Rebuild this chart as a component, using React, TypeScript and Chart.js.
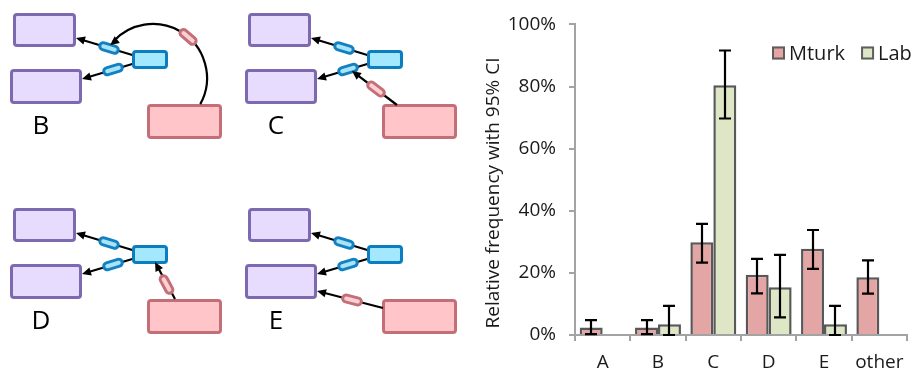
import React, { useEffect, useRef } from "react";
import { Chart, registerables } from "chart.js";
Chart.register(...registerables);

// ---------- chart data ----------
const categories = ["A", "B", "C", "D", "E", "other"];
const seriesNames = ["Mturk", "Lab"];
const mturkValues = [2.4, 2.4, 29.9, 19.4, 27.8, 18.6];
const labValues = [0, 3.5, 80.4, 15.4, 3.5, 0];
const mturkLow = [0.3, 0.3, 23.3, 13.4, 21.3, 13.3];
const mturkHigh = [4.8, 4.8, 35.8, 24.5, 33.8, 24.0];
const labLow: (number | null)[] = [null, 0, 69.7, 5.7, 0, null];
const labHigh: (number | null)[] = [null, 9.4, 91.6, 25.8, 9.4, null];
const yTickMin = 0;
const yTickMax = 100;
const yTickStep = 20;
const yTitle = "Relative frequency with 95% CI";
const panelLabels = ["B", "C", "D", "E"];

const FONT = "'Open Sans', 'Noto Sans', sans-serif";
const TEXT = "#1a1a1a";
const AXIS = "#a3a3a3";
const colors = ["#e4a6a5", "#dde7c6"];

// ---------- diagram drawing helpers ----------
type Pt = [number, number];

function box(ctx: CanvasRenderingContext2D, x: number, y: number, w: number, h: number, fill: string, stroke: string) {
  ctx.beginPath();
  ctx.roundRect(x + 1.5, y + 1.5, w - 3, h - 3, 2.5);
  ctx.fillStyle = fill;
  ctx.fill();
  ctx.lineWidth = 3;
  ctx.strokeStyle = stroke;
  ctx.stroke();
}

function pill(ctx: CanvasRenderingContext2D, cx: number, cy: number, angle: number, fill: string, stroke: string) {
  ctx.save();
  ctx.translate(cx, cy);
  ctx.rotate(angle);
  ctx.beginPath();
  ctx.roundRect(-9.5, -3.5, 19, 7, 3.5);
  ctx.fillStyle = fill;
  ctx.fill();
  ctx.lineWidth = 3;
  ctx.strokeStyle = stroke;
  ctx.stroke();
  ctx.restore();
}

function head(ctx: CanvasRenderingContext2D, from: Pt, tip: Pt) {
  const dx = tip[0] - from[0];
  const dy = tip[1] - from[1];
  const len = Math.hypot(dx, dy) || 1;
  const ux = dx / len, uy = dy / len;
  const L = 9, W = 4.2;
  const bx = tip[0] - ux * L, by = tip[1] - uy * L;
  ctx.beginPath();
  ctx.moveTo(tip[0], tip[1]);
  ctx.lineTo(bx - uy * W, by + ux * W);
  ctx.lineTo(bx + uy * W, by - ux * W);
  ctx.closePath();
  ctx.fillStyle = "#000";
  ctx.fill();
}

function arrow(ctx: CanvasRenderingContext2D, a: Pt, b: Pt) {
  const dx = b[0] - a[0], dy = b[1] - a[1];
  const len = Math.hypot(dx, dy);
  const e: Pt = [b[0] - (dx / len) * 6, b[1] - (dy / len) * 6];
  ctx.beginPath();
  ctx.moveTo(a[0], a[1]);
  ctx.lineTo(e[0], e[1]);
  ctx.lineWidth = 2.2;
  ctx.strokeStyle = "#000";
  ctx.stroke();
  head(ctx, a, b);
}

const PURPLE = ["#e7dcfe", "#7c69b0"];
const BLUE = ["#a3e8ff", "#0c7dbf"];
const PINK = ["#ffc5c9", "#c46f77"];
const BLUEPILL = ["#a8e4f8", "#1380c2"];
const PINKPILL = ["#fbd0d3", "#c46f77"];

function drawPanel(ctx: CanvasRenderingContext2D, ox: number, oy: number, label: string, variant: number) {
  ctx.save();
  ctx.translate(ox, oy);
  box(ctx, 13, 13, 63, 34, PURPLE[0], PURPLE[1]);
  box(ctx, 10, 69, 72, 35, PURPLE[0], PURPLE[1]);
  box(ctx, 147, 104, 75, 35, PINK[0], PINK[1]);

  // blue connectors
  arrow(ctx, [134, 55.5], [76, 38]);
  arrow(ctx, [134, 63.5], [82, 79]);
  box(ctx, 132, 50, 36, 19, BLUE[0], BLUE[1]);
  pill(ctx, 109, 48, Math.atan2(17, 56), BLUEPILL[0], BLUEPILL[1]);
  pill(ctx, 113, 69.5, -Math.atan2(15, 50), BLUEPILL[0], BLUEPILL[1]);

  // pink connector
  if (variant === 0) {
    const cx = 153, cy = 78, r = 54;
    const a0 = Math.atan2(104 - cy, 200 - cx);
    const a1 = -2.40;
    ctx.beginPath();
    ctx.arc(cx, cy, r, a0, a1, true);
    ctx.lineWidth = 2.2;
    ctx.strokeStyle = "#000";
    ctx.stroke();
    const tip: Pt = [cx + r * Math.cos(-2.487), cy + r * Math.sin(-2.487)];
    const from: Pt = [cx + r * Math.cos(-2.2), cy + r * Math.sin(-2.2)];
    head(ctx, [from[0] + 4, from[1] - 1], tip);
    const t = -0.864;
    pill(ctx, cx + r * Math.cos(t), cy + r * Math.sin(t), Math.atan2(-Math.cos(t), Math.sin(t)), PINKPILL[0], PINKPILL[1]);
  } else {
    const segs: [Pt, Pt, Pt][] = [
      [[0, 0], [0, 0], [0, 0]],
      [[162, 105], [117, 71], [141, 89]],
      [[175, 104], [155, 67], [166.5, 89.5]],
      [[148, 113], [82, 96], [117, 105]],
    ];
    const [a, b, p] = segs[variant];
    arrow(ctx, a, b);
    pill(ctx, p[0], p[1], Math.atan2(b[1] - a[1], b[0] - a[0]), PINKPILL[0], PINKPILL[1]);
  }

  ctx.fillStyle = "#000";
  ctx.font = `26px ${FONT}`;
  ctx.textAlign = "center";
  ctx.textBaseline = "middle";
  ctx.fillText(label, 41, 127);
  ctx.restore();
}

const diagramPlugin = {
  id: "diagrams",
  afterDraw(chart: any) {
    const ctx: CanvasRenderingContext2D = chart.ctx;
    const offsets: Pt[] = [[0, 0], [235, 0], [0, 195], [235, 195]];
    panelLabels.forEach((lab, i) => drawPanel(ctx, offsets[i][0], offsets[i][1], lab, i));
  },
};

const errorBarPlugin = {
  id: "errorBars",
  afterDatasetsDraw(chart: any) {
    const ctx: CanvasRenderingContext2D = chart.ctx;
    const y = chart.scales.y;
    const lows = [mturkLow, labLow];
    const highs = [mturkHigh, labHigh];
    ctx.save();
    ctx.strokeStyle = "#000";
    ctx.lineWidth = 2.2;
    chart.data.datasets.forEach((_: any, di: number) => {
      const meta = chart.getDatasetMeta(di);
      meta.data.forEach((bar: any, i: number) => {
        const lo = lows[di][i], hi = highs[di][i];
        if (lo == null || hi == null) return;
        const x = Math.round(bar.x);
        const y1 = y.getPixelForValue(lo), y2 = y.getPixelForValue(hi);
        ctx.beginPath();
        ctx.moveTo(x, y1);
        ctx.lineTo(x, y2);
        ctx.moveTo(x - 6, y1);
        ctx.lineTo(x + 6, y1);
        ctx.moveTo(x - 6, y2);
        ctx.lineTo(x + 6, y2);
        ctx.stroke();
      });
    });
    ctx.restore();
  },
};

const legendTitlePlugin = {
  id: "legendTitle",
  afterDraw(chart: any) {
    const ctx: CanvasRenderingContext2D = chart.ctx;
    ctx.save();
    // legend
    ctx.font = `20px ${FONT}`;
    ctx.textBaseline = "middle";
    ctx.textAlign = "left";
    let x = 772;
    const cy = 53;
    chart.data.datasets.forEach((ds: any) => {
      ctx.fillStyle = ds.backgroundColor;
      ctx.fillRect(x, cy - 6.5, 13, 13);
      ctx.strokeStyle = "#5e5e5e";
      ctx.lineWidth = 2;
      ctx.strokeRect(x + 1, cy - 5.5, 11, 11);
      ctx.fillStyle = TEXT;
      ctx.fillText(ds.label, x + 17, cy + 1);
      x += 17 + ctx.measureText(ds.label).width + 16;
    });
    // y title
    ctx.font = `19px ${FONT}`;
    ctx.textAlign = "center";
    ctx.translate(494, 193);
    ctx.rotate(-Math.PI / 2);
    ctx.fillStyle = TEXT;
    ctx.fillText(yTitle, 0, 0);
    ctx.restore();
  },
};

export default function App() {
  const ref = useRef<HTMLCanvasElement>(null);
  useEffect(() => {
    document.body.style.margin = "0";
    const chart = new Chart(ref.current!, {
      type: "bar",
      data: {
        labels: categories,
        datasets: [
          { label: seriesNames[0], data: mturkValues, backgroundColor: colors[0], borderColor: "#585858", borderWidth: 2.5 },
          { label: seriesNames[1], data: labValues, backgroundColor: colors[1], borderColor: "#585858", borderWidth: 2.5 },
        ],
      },
      options: {
        responsive: false,
        animation: false,
        devicePixelRatio: 1,
        layout: { padding: { left: 470, top: 24, right: 9, bottom: 0 } },
        datasets: { bar: { barPercentage: 1, categoryPercentage: 0.83 } },
        plugins: { legend: { display: false }, tooltip: { enabled: false } },
        scales: {
          x: {
            afterFit(s: any) { s.height = 34; },
            grid: { offset: true, drawOnChartArea: false, tickLength: 6, color: AXIS, lineWidth: 2 },
            border: { color: AXIS, width: 2 },
            ticks: { color: TEXT, font: { family: FONT, size: 19 }, padding: 10 },
          },
          y: {
            min: yTickMin,
            max: yTickMax,
            afterFit(s: any) { s.width = 105; },
            grid: { drawOnChartArea: false, tickLength: 6, color: AXIS, lineWidth: 2 },
            border: { color: AXIS, width: 2 },
            ticks: { stepSize: yTickStep, color: TEXT, font: { family: FONT, size: 19 }, padding: 13, callback: (v: any) => `${v}%` },
          },
        },
      },
      plugins: [errorBarPlugin, legendTitlePlugin, diagramPlugin],
    } as any);
    return () => chart.destroy();
  }, []);
  return (
    <div style={{ width: 916, height: 369, position: "relative", background: "#fff" }}>
      <canvas ref={ref} width={916} height={369} style={{ display: "block", width: 916, height: 369 }} />
    </div>
  );
}
